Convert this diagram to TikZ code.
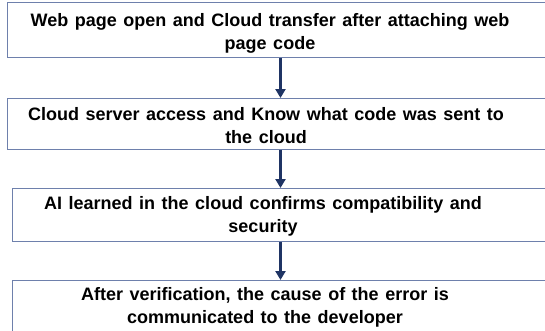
\documentclass[tikz,border=0pt]{standalone}
\usepackage{fontspec}
\setmainfont{Liberation Sans}[WordSpace={1.3}]
\usetikzlibrary{arrows.meta}
\definecolor{boxline}{RGB}{110,128,172}
\definecolor{arrownavy}{RGB}{31,52,100}
\tikzset{
  stepbox/.style={draw=boxline, line width=0.9pt, fill=white, anchor=north west, inner sep=0pt},
  steptext/.style={align=center, font=\fontsize{18}{23}\selectfont\bfseries, text=black, inner sep=0pt},
  flowarrow/.style={draw=arrownavy, line width=3pt, -{Triangle[width=10pt,length=9pt]}}
}
\begin{document}
\begin{tikzpicture}[x=1pt,y=1pt]
\useasboundingbox (0,0) rectangle (545,-330);
\clip (0,0) rectangle (545,-330);
\node[stepbox, minimum width=560pt, minimum height=55pt] (b1) at (7,-2) {};
\node[stepbox, minimum width=560pt, minimum height=51pt] (b2) at (7,-98) {};
\node[stepbox, minimum width=560pt, minimum height=53pt] (b3) at (12,-188) {};
\node[stepbox, minimum width=560pt, minimum height=70pt] (b4) at (12,-280) {};
\node[steptext] (t1) at (270,-33) {Web page open and Cloud transfer after attaching web\\page code};
\node[steptext] (t2) at (266,-125.5) {Cloud server access and Know what code was sent to\\the cloud};
\node[steptext] (t3) at (263,-216.5) {AI learned in the cloud confirms compatibility and\\security};
\node[steptext] (t4) at (265,-307.5) {After verification, the cause of the error is\\communicated to the developer};
\coordinate (ax) at (280.5,0);
\draw[flowarrow] (b1.south -| ax) -- (b2.north -| ax);
\draw[flowarrow] (b2.south -| ax) -- (b3.north -| ax);
\draw[flowarrow] (b3.south -| ax) -- (b4.north -| ax);
\end{tikzpicture}
\end{document}
